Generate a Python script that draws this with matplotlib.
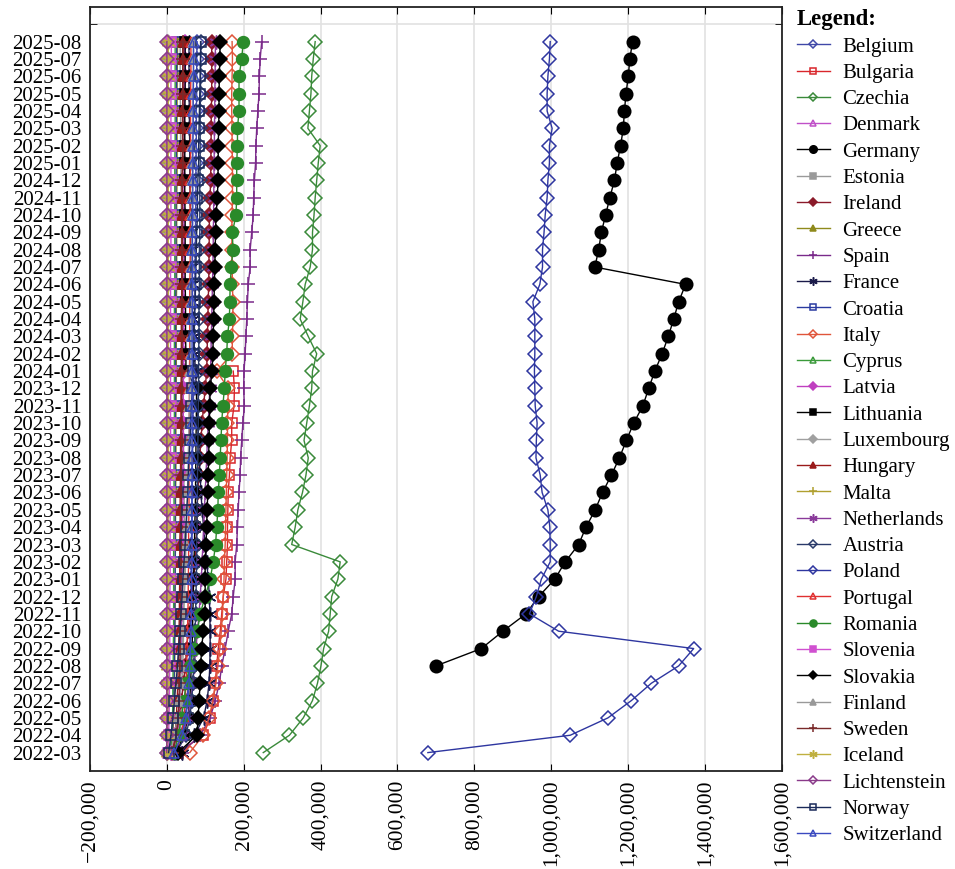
import numpy as np
import pandas as pd
import matplotlib
matplotlib.use("Agg")
import matplotlib.pyplot as plt
from matplotlib.ticker import FuncFormatter

plt.rcParams['font.family'] = ['Liberation Serif', 'DejaVu Serif']

months = list(pd.period_range("2022-03", "2025-08", freq="M").strftime("%Y-%m"))
nan = np.nan

# values in thousands, 2022-03 .. 2025-08
belgium = [20, 38, 48, 53, 56, 58, 60, 61, 62, 63, 63, 64, 64, 65, 65, 66, 66, 67, 68, 68, 69, 70, 70, 71, 72, 72, 73, 73, 74, 74, 75, 75, 76, 76, 76, 77, 77, 77, 78, 78, 78, 79]
bulgaria = [30, 95, 113, 121, 126, 130, 134, 139, 143, 147, 154, 156, 158, 158, 159, 160, 163, 165, 169, 169, 175, 176, 173] + [nan] * 19
czechia = [251, 319, 355, 379, 392, 401, 408, 421, 425, 429, 445, 451, 325, 334, 341, 353, 362, 368, 357, 364, 371, 377, 379, 390, 368, 347, 354, 360, 373, 379, 379, 383, 386, 390, 394, 399, 367, 371, 375, 377, 381, 386]
denmark = [20, 28, 32, 34, 35, 36, 37, 37, 38, 38, 38, 38, 38, 38, 38, 39, 39, 39, 39, 39, 39, 39, 40, 40, 40, 40, 40, 40, 40, 40, 40, 41, 41, 41, 41, 42, 42, 42, 42, 42, 42, 42]
germany = [nan] * 5 + [700, 818, 874, 934, 967, 1009, 1036, 1071, 1090, 1114, 1133, 1156, 1177, 1195, 1214, 1238, 1253, 1269, 1288, 1304, 1318, 1331, 1349, 1113, 1123, 1130, 1141, 1152, 1164, 1171, 1180, 1187, 1190, 1194, 1200, 1204, 1211]
estonia = [25, 35, 38, 40, 41, 42, 43, 44, 44, 45, 45, 46, 46, 46, 46, 45, 45, 44, 44, 43, 43, 42, 42, 42, 41, 41, 40, 40, 39, 39, 38, 38, 38, 37, 37, 36, 36, 36, 35, 35, 35, 35]
ireland = [15, 25, 32, 38, 44, 48, 52, 56, 60, 64, 70, 74, 76, 78, 79, 81, 83, 86, 89, 92, 96, 100, 104, 105, 106, 107, 108, 109, 110, 110, 111, 111, 113, 114, 115, 115, 116, 116, 117, 117, 117, 117]
greece = [10, 16, 18, 20, 20, 21, 21, 21, 22, 22, 22, 22, 23, 23, 23, 23, 24, 24, 24, 24, 24, 25, 25, 25, 25, 25, 25, 26, 26, 26, 26, 26, 26, 27, 27, 27, 27, 27, 27, 27, 28, 28]
spain = [39, 87, 113, 126, 137, 143, 152, 160, 169, 173, 178, 178, 182, 184, 186, 188, 191, 192, 195, 198, 202, 200, 201, 204, 206, 208, 210, 212, 217, 217, 221, 225, 226, 228, 231, 232, 234, 237, 240, 241, 243, 247]
france = [40, 72, 96, 105, 110, 112, 113, 113, 112, 111, 108, 104, 100, 96, 92, 89, 87, 85, 83, 81, 79, 77, 75, 72, 70, 68, 66, 65, 64, 63, 62, 62, 61, 60, 60, 60, 59, 59, 58, 58, 58, 58]
croatia = [8, 14, 17, 18, 19, 20, 20, 21, 21, 21, 22, 22, 22, 22, 22, 22, 22, 22, 22, 22, 23, 23, 23, 23, 23, 23, 23, 24, 24, 24, 24, 24, 24, 24, 25, 25, 25, 25, 25, 26, 26, 26]
italy = [60, 95, 110, 120, 128, 133, 138, 142, 145, 147, 149, 150, 152, 153, 154, 155, 156, 157, 158, 158, 159, 160, 130, 170, 171, 172, 172, 171, 170, 170, 169, 170, 171, 171, 171, 170, 170, 169, 169, 170, 171, 170]
cyprus = [10, 13, 15, 16, 16, 17, 17, 18, 18, 18, 18, 18, 18, 19, 19, 19, 19, 19, 19, 20, 20, 20, 20, 20, 20, 20, 20, 21, 21, 21, 21, 21, 21, 21, 21, 22, 22, 22, 22, 22, 22, 22]
latvia = [12, 22, 30, 33, 35, 36, 37, 38, 39, 40, 40, 41, 41, 41, 42, 42, 42, 43, 43, 43, 43, 43, 44, 44, 44, 44, 44, 45, 45, 45, 45, 45, 45, 46, 46, 46, 46, 46, 46, 47, 47, 47]
lithuania = [25, 45, 55, 60, 62, 64, 66, 67, 68, 69, 70, 71, 72, 73, 74, 75, 75, 76, 76, 77, 77, 78, 50, 50, 49, 49, 49, 48, 48, 48, 48, 48, 47, 47, 47, 47, 47, 47, 48, 48, 48, 48]
luxembourg = [2, 3, 4, 4, 4, 4, 4, 4, 4, 4, 4, 4, 4, 4, 4, 4, 4, 4, 4, 4, 4, 4, 4, 4, 4, 4, 4, 4, 4, 4, 4, 4, 4, 4, 4, 4, 4, 4, 4, 4, 4, 4]
hungary = [15, 22, 25, 27, 29, 30, 31, 32, 33, 33, 34, 34, 34, 35, 35, 35, 36, 36, 36, 37, 37, 37, 38, 38, 38, 38, 39, 39, 39, 39, 40, 40, 40, 40, 41, 41, 41, 41, 42, 42, 42, 43]
malta = [1, 1, 1, 1, 1, 1, 1, 1, 2, 2, 2, 2, 2, 2, 2, 2, 2, 2, 2, 2, 2, 2, 2, 2, 2, 2, 2, 2, 2, 2, 2, 2, 2, 2, 2, 2, 2, 2, 2, 2, 2, 2]
netherlands = [20, 40, 55, 62, 68, 72, 76, 80, 84, 87, 90, 92, 94, 96, 98, 100, 102, 104, 106, 108, 110, 112, 114, 115, 116, 117, 118, 119, 120, 121, 121, 122, 122, 123, 123, 124, 124, 125, 125, 126, 126, 127]
austria = [25, 50, 60, 65, 68, 70, 72, 74, 75, 76, 77, 78, 78, 79, 79, 80, 80, 81, 81, 82, 82, 83, 83, 83, 84, 84, 84, 85, 85, 85, 86, 86, 86, 86, 87, 87, 87, 87, 88, 88, 88, 88]
poland = [679, 1049, 1147, 1208, 1260, 1331, 1370, 1019, 943, 961, 974, 997, 997, 996, 991, 976, 971, 960, 961, 963, 958, 957, 956, 957, 957, 957, 952, 970, 977, 977, 981, 984, 989, 991, 995, 995, 1002, 989, 989, 991, 995, 997]
portugal = [25, 38, 45, 48, 50, 52, 53, 54, 55, 56, 56, 57, 57, 57, 58, 58, 58, 58, 59, 59, 59, 59, 59, 60, 60, 60, 60, 60, 61, 61, 61, 61, 61, 61, 62, 62, 62, 62, 62, 63, 63, 63]
romania = [20, 30, 38, 45, 50, 60, 70, 80, 87, 100, 113, 121, 127, 130, 133, 134, 137, 139, 141, 143, 146, 150, 152, 156, 158, 163, 164, 165, 168, 172, 171, 180, 182, 182, 182, 184, 184, 188, 188, 188, 195, 199]
slovenia = [3, 5, 6, 7, 7, 8, 8, 8, 8, 8, 9, 9, 9, 9, 9, 9, 9, 10, 10, 10, 10, 10, 10, 10, 10, 10, 10, 10, 10, 11, 11, 11, 11, 11, 11, 11, 11, 11, 11, 11, 12, 12]
slovakia = [30, 78, 82, 84, 87, 88, 91, 95, 100, 100, 100, 100, 102, 104, 105, 107, 108, 109, 110, 111, 112, 113, 118, 120, 121, 122, 123, 124, 125, 126, 127, 128, 132, 133, 134, 134, 135, 136, 136, 137, 138, 139]
finland = [10, 20, 28, 33, 36, 38, 40, 42, 44, 46, 48, 49, 50, 52, 53, 54, 55, 56, 57, 58, 59, 60, 61, 62, 62, 63, 63, 64, 64, 65, 65, 66, 66, 67, 67, 67, 68, 68, 68, 69, 69, 69]
sweden = [15, 25, 30, 32, 33, 34, 35, 35, 36, 36, 37, 37, 37, 38, 38, 38, 38, 39, 39, 39, 39, 39, 40, 40, 40, 40, 40, 41, 41, 41, 41, 41, 41, 41, 42, 42, 42, 42, 42, 42, 42, 42]
iceland = [1, 1, 2, 2, 2, 2, 2, 3, 3, 3, 3, 3, 3, 3, 3, 3, 4, 4, 4, 4, 4, 4, 4, 4, 4, 4, 4, 4, 4, 4, 4, 4, 4, 4, 4, 4, 4, 4, 4, 4, 4, 4]
lichtenstein = [0.1, 0.2, 0.3, 0.3, 0.4, 0.4, 0.4, 0.4, 0.4, 0.4, 0.5, 0.5, 0.5, 0.5, 0.5, 0.5, 0.5, 0.5, 0.5, 0.5, 0.5, 0.5, 0.5, 0.5, 0.5, 0.5, 0.5, 0.5, 0.5, 0.5, 0.5, 0.5, 0.5, 0.5, 0.5, 0.5, 0.5, 0.5, 0.5, 0.5, 0.5, 0.5]
norway = [5, 11, 16, 20, 24, 28, 31, 35, 37, 40, 42, 45, 48, 50, 52, 55, 56, 58, 61, 62, 64, 67, 68, 70, 71, 72, 74, 75, 76, 77, 78, 80, 80, 81, 83, 83, 84, 85, 86, 87, 88, 89]
switzerland = [20, 40, 50, 55, 58, 60, 62, 63, 64, 65, 65, 66, 66, 66, 66, 66, 66, 66, 66, 66, 66, 66, 66, 66, 66, 66, 67, 67, 67, 67, 67, 68, 68, 68, 68, 68, 69, 69, 69, 70, 70, 70]

# name, values, color, marker, filled
series = [
    ("Belgium", belgium, "#4048a8", "D", False),
    ("Bulgaria", bulgaria, "#d9262b", "s", False),
    ("Czechia", czechia, "#3a8a3a", "D", False),
    ("Denmark", denmark, "#c050c8", "^", False),
    ("Germany", germany, "black", "o", True),
    ("Estonia", estonia, "#9a9a9a", "s", True),
    ("Ireland", ireland, "#8b1a2a", "D", True),
    ("Greece", greece, "#8f8a1c", "^", True),
    ("Spain", spain, "#7a2a8a", "+", True),
    ("France", france, "#1a1a4a", (6, 2, 0), True),
    ("Croatia", croatia, "#2a3aa0", "s", False),
    ("Italy", italy, "#e0553a", "D", False),
    ("Cyprus", cyprus, "#3a9a3a", "^", False),
    ("Latvia", latvia, "#c040c0", "D", True),
    ("Lithuania", lithuania, "black", "s", True),
    ("Luxembourg", luxembourg, "#a0a0a0", "D", True),
    ("Hungary", hungary, "#9a1a1a", "^", True),
    ("Malta", malta, "#b0a030", "+", True),
    ("Netherlands", netherlands, "#8a3a9a", (6, 2, 0), True),
    ("Austria", austria, "#2a3a6a", "D", False),
    ("Poland", poland, "#2e36a0", "D", False),
    ("Portugal", portugal, "#e03030", "^", False),
    ("Romania", romania, "#2a8a2a", "o", True),
    ("Slovenia", slovenia, "#d050d0", "s", True),
    ("Slovakia", slovakia, "black", "D", True),
    ("Finland", finland, "#999999", "^", True),
    ("Sweden", sweden, "#7a2a2a", "+", True),
    ("Iceland", iceland, "#c0b040", (6, 2, 0), True),
    ("Lichtenstein", lichtenstein, "#8a3a8a", "D", False),
    ("Norway", norway, "#1a2a5a", "s", False),
    ("Switzerland", switzerland, "#3a4ac0", "^", False),
]

fig = plt.figure(figsize=(9.55, 8.69), dpi=100)
ax = fig.add_axes([0.094, 0.113, 0.725, 0.879])

y = np.arange(len(months))
for name, vals, col, mk, filled in series:
    x = np.array(vals, dtype=float) * 1000
    ms = 7.5
    if mk == "o":
        ms = 8.5
    if mk == "+" or isinstance(mk, tuple):
        ms = 10
    if name == "Germany":
        ms = 9
    ax.plot(x, y, color=col, lw=1.0, marker=mk, ms=ms,
            markerfacecolor=col if filled else "none",
            markeredgecolor=col, markeredgewidth=1.1, label=name)

ax.set_xlim(-200000, 1600000)
ax.set_ylim(-1.05, 43)
ax.set_xticks(np.arange(-200000, 1600001, 200000))
ax.xaxis.set_major_formatter(FuncFormatter(lambda v, p: f"{v:,.0f}".replace("-", "\u2212")))
ax.tick_params(axis="x", labelrotation=90, labelsize=15.5, direction="in",
               length=5, top=True, bottom=True, pad=6)
ax.set_yticks(y)
ax.set_yticklabels(months)
ax.tick_params(axis="y", which="major", labelsize=15, length=0, pad=6)
ax.set_yticks(np.arange(0, 43, 2), minor=True)
ax.tick_params(axis="y", which="minor", direction="in", length=5,
               left=True, right=True)
ax.grid(axis="x", which="major", color="#e2e2e2", lw=1.2)
ax.grid(axis="y", which="minor", color="#e2e2e2", lw=1.2)
ax.set_axisbelow(True)
for sp in ax.spines.values():
    sp.set_linewidth(1.3)
    sp.set_color("#222222")

leg = ax.legend(loc="upper left", bbox_to_anchor=(1.0, 1.016), frameon=False,
                fontsize=15, title="Legend:", alignment="left",
                title_fontproperties={"weight": "bold", "size": 16.5},
                markerscale=0.6, handlelength=1.6, labelspacing=0.322,
                borderaxespad=0.3, handletextpad=0.6)

fig.savefig("out.png", dpi=100)
